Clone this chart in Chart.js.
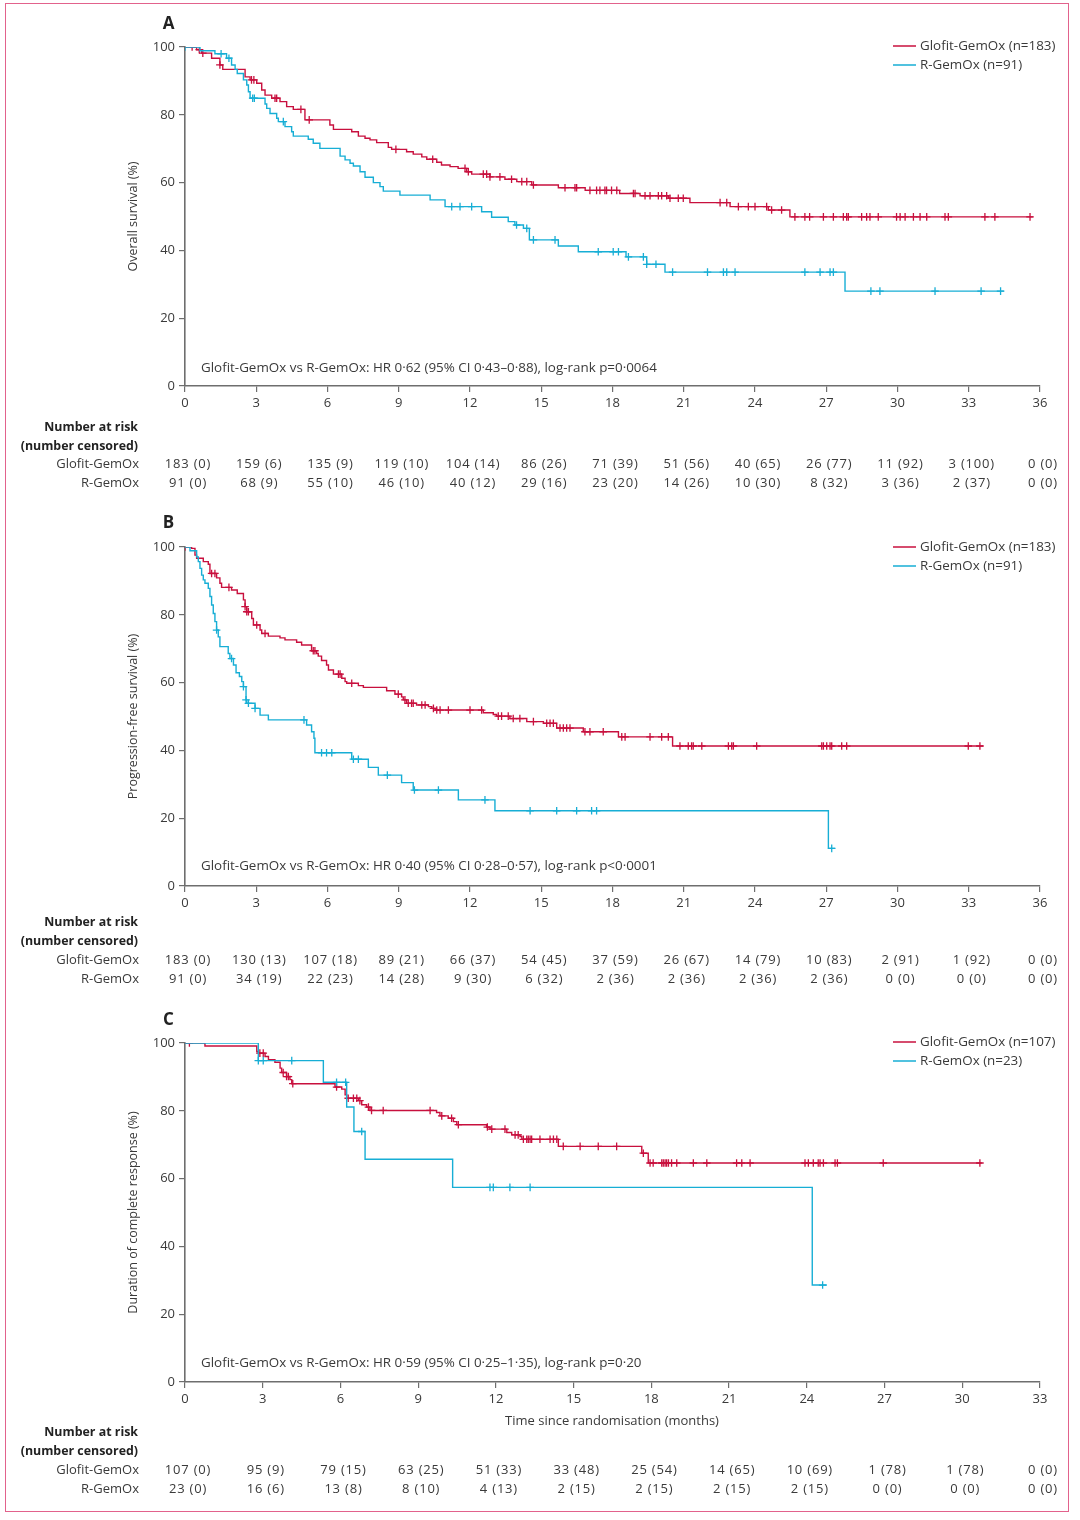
<!DOCTYPE html>
<html><head><meta charset="utf-8">
<script src="https://cdn.jsdelivr.net/npm/chart.js@4.4.1/dist/chart.umd.min.js"></script>
<style>
html,body{margin:0;padding:0;background:#fff;}
body{width:1080px;height:1520px;position:relative;overflow:hidden;}
#frame{position:absolute;left:5px;top:3px;width:1064px;height:1509px;border:1.5px solid #e2628c;box-sizing:border-box;}
.panel{position:absolute;left:0;width:1080px;}
canvas{display:block;}
</style></head>
<body>
<div id="frame"></div>
<div class="panel" style="top:0px;height:500px"><canvas id="cA" width="1080" height="500"></canvas></div>
<div class="panel" style="top:500px;height:500px"><canvas id="cB" width="1080" height="500"></canvas></div>
<div class="panel" style="top:1000px;height:520px"><canvas id="cC" width="1080" height="520"></canvas></div>
<script>
// ---------- DATA ----------
// Panel A: overall survival
const A_glofit_t = [0,0.49,0.70,1.12,1.47,1.59,2.53,2.74,3.02,3.23,3.37,3.65,4.0,4.28,4.56,5.05,6.1,6.25,7.02,7.3,7.58,7.79,8.07,8.56,8.7,9.33,9.61,9.97,10.18,10.6,10.8,11.16,11.5,11.86,12.07,12.84,13.47,13.97,14.6,15.72,16.85,18.3,19.16,20.35,21.26,22.95,24.56,25.47,35.7];
const A_glofit_s = [100,99.2,98.2,96.7,94.7,93.4,91.2,90.3,89.3,87.3,85.8,84.9,83.9,82.4,81.6,78.5,77.0,75.7,75.0,73.7,73.1,72.6,71.8,70.4,69.8,69.1,68.4,67.6,66.9,66.0,65.2,64.7,64.2,63.2,62.5,61.7,61.0,60.3,59.3,58.5,57.7,56.8,56.1,55.4,54.1,52.9,51.9,49.9,49.9];
const A_glofit_cens = [0.3,0.6,0.75,1.47,2.8,2.9,3.79,3.86,4.88,5.23,8.88,10.43,11.79,11.93,12.56,12.7,12.84,13.26,13.75,14.18,14.39,14.67,16.0,16.42,16.49,17.05,17.33,17.47,17.68,17.75,17.96,18.18,18.88,18.95,19.37,19.58,19.93,20.07,20.28,20.42,20.77,20.98,22.53,22.81,23.3,23.72,24.0,24.49,24.7,25.12,25.68,26.1,26.3,26.88,27.3,27.72,27.86,27.93,28.49,28.7,28.84,29.19,29.96,30.11,30.32,30.67,30.95,31.23,32.0,32.14,33.68,34.1,35.58];
const A_rgemox_t = [0,0.63,1.26,1.75,1.96,2.11,2.2,2.46,2.6,2.67,2.74,3.37,3.44,3.58,3.86,3.93,4.21,4.49,4.56,5.19,5.40,5.68,6.53,6.74,6.95,7.09,7.37,7.58,7.93,8.21,8.35,9.05,10.32,10.95,12.49,12.91,13.61,13.89,14.25,14.5,15.72,16.56,18.57,19.44,20.21,27.79,34.48];
const A_rgemox_s = [100,98.9,98.0,96.7,94.7,93.4,92.2,90.3,88.8,86.8,84.9,83.2,81.9,80.4,79.0,78.0,76.5,75.0,73.7,72.8,71.6,70.1,67.8,66.7,65.7,64.9,63.2,61.6,60.0,58.8,57.5,56.3,54.9,52.9,51.4,49.8,48.5,47.5,46.5,43.1,41.3,39.6,38.1,35.9,33.6,28.0,28.0];
const A_rgemox_cens = [0,1.52,1.85,2.85,2.92,4.14,11.23,11.58,12.07,13.96,14.39,14.67,15.58,17.4,18.03,18.25,18.67,19.3,19.44,19.83,20.53,22.0,22.67,22.81,23.16,26.1,26.74,27.16,27.3,28.88,29.26,31.58,33.52,34.34];
const A_risk_glofit = ['183 (0)','159 (6)','135 (9)','119 (10)','104 (14)','86 (26)','71 (39)','51 (56)','40 (65)','26 (77)','11 (92)','3 (100)','0 (0)'];
const A_risk_rgemox = ['91 (0)','68 (9)','55 (10)','46 (10)','40 (12)','29 (16)','23 (20)','14 (26)','10 (30)','8 (32)','3 (36)','2 (37)','0 (0)'];

// Panel B: progression-free survival
const B_glofit_t = [0,0.28,0.42,0.49,0.77,0.98,1.05,1.33,1.47,1.54,1.96,2.2,2.46,2.53,2.6,2.81,2.88,3.16,3.23,3.51,4.0,4.21,4.70,4.91,5.33,5.54,5.61,5.75,5.96,6.04,6.25,6.6,6.74,6.81,7.3,7.51,8.49,8.84,9.12,9.19,9.33,9.75,10.25,10.39,10.53,12.56,12.98,13.12,13.68,14.39,15.09,15.65,16.77,18.25,20.53,33.61];
const B_glofit_s = [100,99.6,97.6,96.7,95.7,94.9,92.2,90.9,89.3,88.1,87.3,86.3,84.4,82.4,80.9,78.9,77.0,75.5,74.5,73.7,73.2,72.6,71.9,71.1,69.4,68.6,67.8,66.5,65.2,63.7,62.5,61.3,60.3,59.8,59.1,58.6,57.6,56.6,55.8,54.9,53.9,53.4,52.9,52.4,51.9,51.1,50.6,50.1,49.4,48.5,48.0,46.6,45.5,44.0,41.3,41.3];
const B_glofit_cens = [0,1.12,1.26,1.85,2.53,2.6,2.67,3.02,3.37,5.4,5.47,6.46,6.53,7.02,8.98,9.26,9.4,9.54,9.61,9.97,10.11,10.46,10.6,10.74,11.09,12.0,12.49,13.19,13.33,13.61,13.82,14.1,14.67,15.23,15.37,15.51,15.79,15.93,16.07,16.21,16.84,17.05,17.61,18.39,18.53,19.58,20.07,20.35,20.84,21.19,21.33,21.4,21.76,22.88,23.02,23.09,24.07,26.81,26.88,27.02,27.16,27.23,27.65,27.86,32.98,33.47];
const B_rgemox_t = [0,0.21,0.49,0.56,0.63,0.70,0.77,0.84,0.98,1.05,1.12,1.19,1.26,1.33,1.40,1.47,1.82,1.89,2.04,2.15,2.29,2.39,2.46,2.57,2.6,2.95,3.16,3.51,5.12,5.33,5.43,5.47,7.02,7.72,8.14,9.12,9.61,11.51,13.05,27.09,27.37];
const B_rgemox_s = [100,98.9,97.1,95.7,93.7,91.7,90.3,89.3,87.8,85.4,82.9,80.4,78.0,75.5,73.5,70.6,68.6,67.1,65.2,62.9,61.8,60.3,58.8,54.9,53.9,52.4,50.4,49.0,47.5,45.5,43.6,39.3,37.4,35.0,32.7,30.5,28.3,25.4,22.2,11.1,11.1];
const B_rgemox_cens = [1.33,1.96,2.46,2.57,2.67,2.95,5.01,5.75,5.96,6.18,7.09,7.3,8.52,9.66,10.67,12.63,14.53,15.65,16.49,17.12,17.33,27.23];
const B_risk_glofit = ['183 (0)','130 (13)','107 (18)','89 (21)','66 (37)','54 (45)','37 (59)','26 (67)','14 (79)','10 (83)','2 (91)','1 (92)','0 (0)'];
const B_risk_rgemox = ['91 (0)','34 (19)','22 (23)','14 (28)','9 (30)','6 (32)','2 (36)','2 (36)','2 (36)','2 (36)','0 (0)','0 (0)','0 (0)'];

// Panel C: duration of complete response
const C_glofit_t = [0,0.77,2.77,2.83,3.09,3.22,3.47,3.67,3.73,3.92,4.05,4.12,5.79,6.05,6.18,6.24,6.69,6.82,7.01,7.14,9.71,9.84,10.16,10.36,10.49,11.64,11.77,12.42,12.61,12.93,13.0,14.41,17.63,17.88,30.75];
const C_glofit_s = [100,99.1,97.5,97.0,96.0,95.1,94.3,92.6,91.3,90.1,89.2,88.0,87.0,86.4,84.7,83.7,83.0,81.8,81.1,80.1,79.5,78.5,77.8,76.8,75.9,75.2,74.6,73.6,72.9,72.4,71.6,69.5,67.5,64.6,64.6];
const C_glofit_cens = [0.17,2.89,3.02,3.79,3.92,3.99,4.16,5.85,6.3,6.5,6.63,6.75,7.08,7.2,7.65,9.46,9.91,10.29,10.55,11.67,11.84,12.35,12.74,12.86,13.06,13.19,13.25,13.32,13.38,13.7,14.09,14.22,14.35,14.6,15.25,15.95,16.66,17.69,17.95,18.07,18.4,18.46,18.53,18.59,18.66,18.78,18.98,19.62,20.14,21.29,21.49,21.81,23.93,24.06,24.25,24.44,24.51,24.64,25.09,25.18,26.95,30.68];
const C_rgemox_t = [0,2.83,5.34,6.24,6.52,6.95,10.33,24.21,24.77];
const C_rgemox_s = [100,94.8,88.4,81.1,73.9,65.7,57.4,28.6,28.6];
const C_rgemox_cens = [2.83,3.02,4.12,5.85,6.2,6.82,11.77,11.9,12.54,13.32,24.61];
const C_risk_glofit = ['107 (0)','95 (9)','79 (15)','63 (25)','51 (33)','33 (48)','25 (54)','14 (65)','10 (69)','1 (78)','1 (78)','0 (0)'];
const C_risk_rgemox = ['23 (0)','16 (6)','13 (8)','8 (10)','4 (13)','2 (15)','2 (15)','2 (15)','2 (15)','0 (0)','0 (0)','0 (0)'];

const seriesNames = ['Glofit-GemOx','R-GemOx'];
const legendA = ['Glofit-GemOx (n=183)','R-GemOx (n=91)'];
const legendB = ['Glofit-GemOx (n=183)','R-GemOx (n=91)'];
const legendC = ['Glofit-GemOx (n=107)','R-GemOx (n=23)'];

// ---------- RENDER ----------
const FONT = "'Open Sans','Liberation Sans',Arial,sans-serif";
Chart.defaults.font.family = FONT;
Chart.defaults.font.size = 13;
Chart.defaults.color = '#444';
const RED = '#c8103e', CYAN = '#17aed5', AXIS = '#6e6e6e', TXT = '#3a3a3a';

function stepPoints(t, s){ return t.map((v,i)=>({x:v, y:s[i]})); }
function censorPoints(c, t, s){
  return c.map(tc=>{ let y=s[0]; for(let i=0;i<t.length;i++){ if(t[i]<=tc+1e-9) y=s[i]; else break; } return {x:tc, y:y}; });
}

function makePanel(id, cfg){
  const txtPlugin = {
    id:'txt_'+id,
    afterDraw(chart){
      const c = chart.ctx, ca = chart.chartArea, xs = chart.scales.x;
      c.save();
      c.fillStyle = '#222'; c.font = 'bold 17px ' + FONT; c.textAlign='center'; c.textBaseline='middle';
      c.fillText(cfg.letter, 168.5, cfg.letterY);
      c.save(); c.translate(133, (ca.top+ca.bottom)/2); c.rotate(-Math.PI/2);
      c.font = '12.5px ' + FONT; c.fillStyle = TXT; c.textAlign='center'; c.textBaseline='middle';
      c.fillText(cfg.yTitle, 0, 0); c.restore();
      const cols=[RED,CYAN];
      cfg.legend.forEach((lab,i)=>{
        const y = cfg.legendY + i*19;
        c.strokeStyle = cols[i]; c.lineWidth = 1.5;
        c.beginPath(); c.moveTo(893,y); c.lineTo(916,y); c.stroke();
        c.fillStyle = TXT; c.font = '13.4px ' + FONT; c.textAlign='left'; c.textBaseline='middle';
        c.fillText(lab, 920, y);
      });
      c.fillStyle = TXT; c.font = '13.4px ' + FONT; c.textAlign='left'; c.textBaseline='middle';
      c.fillText(cfg.annot, 201, cfg.annotY);
      if (cfg.xTitle){ c.font = '13px ' + FONT; c.textAlign='center'; c.fillText(cfg.xTitle, 612, cfg.xTitleY); }
      c.fillStyle = '#222'; c.font = 'bold 12.4px ' + FONT; c.textAlign='right';
      c.fillText('Number at risk', 138, cfg.riskY[0]);
      c.fillText('(number censored)', 138, cfg.riskY[1]);
      c.fillStyle = TXT; c.font = '13px ' + FONT;
      c.fillText(seriesNames[0], 139, cfg.riskY[2]);
      c.fillText(seriesNames[1], 139, cfg.riskY[3]);
      c.textAlign = 'center';
      c.letterSpacing = '0.8px';
      [cfg.riskG, cfg.riskR].forEach((row,ri)=>{
        row.forEach((v,i)=>{
          const px = xs.getPixelForValue(i*3) + 3;
          c.fillText(v, px, cfg.riskY[2+ri]);
        });
      });
      c.letterSpacing = '0px';
      c.restore();
    }
  };
  new Chart(document.getElementById(id), {
    type:'line',
    data:{ datasets:[
      {label:seriesNames[1], data:stepPoints(cfg.rT,cfg.rS), borderColor:CYAN, borderWidth:1.4, stepped:'before', pointRadius:0, fill:false},
      {label:seriesNames[0], data:stepPoints(cfg.gT,cfg.gS), borderColor:RED, borderWidth:1.4, stepped:'before', pointRadius:0, fill:false},
      {label:'R cens', data:censorPoints(cfg.rC,cfg.rT,cfg.rS), showLine:false, pointStyle:'cross', pointRadius:3.8, pointHoverRadius:3.8, borderColor:CYAN, borderWidth:1.3},
      {label:'G cens', data:censorPoints(cfg.gC,cfg.gT,cfg.gS), showLine:false, pointStyle:'cross', pointRadius:3.8, pointHoverRadius:3.8, borderColor:RED, borderWidth:1.3}
    ]},
    options:{
      responsive:false, animation:false, events:[],
      layout:{padding:{left:0, right:40, top:cfg.padTop, bottom:cfg.padBottom}},
      plugins:{legend:{display:false}, tooltip:{enabled:false}},
      scales:{
        x:{type:'linear', min:0, max:cfg.xMax,
           ticks:{stepSize:3, color:TXT, font:{size:13}, padding:3, maxRotation:0, autoSkip:false},
           grid:{display:true, drawOnChartArea:false, drawTicks:true, tickLength:6, color:AXIS, lineWidth:1.2},
           border:{display:true, color:AXIS, width:1.6},
           afterFit(s){ s.height = 30; s.paddingLeft=0; s.paddingRight=0; }},
        y:{type:'linear', min:0, max:100,
           ticks:{stepSize:20, color:TXT, font:{size:13}, padding:4},
           grid:{display:true, drawOnChartArea:false, drawTicks:true, tickLength:6, color:AXIS, lineWidth:1.2},
           border:{display:true, color:AXIS, width:1.6},
           afterFit(s){ s.width = 185; s.paddingTop=0; s.paddingBottom=0; }}
      }
    },
    plugins:[txtPlugin]
  });
}

makePanel('cA', {letter:'A', letterY:24, yTitle:'Overall survival (%)', legend:legendA, legendY:46,
  annot:'Glofit-GemOx vs R-GemOx: HR 0·62 (95% CI 0·43–0·88), log-rank p=0·0064', annotY:368,
  riskY:[427,446,464,483], riskG:A_risk_glofit, riskR:A_risk_rgemox, xMax:36, padTop:47, padBottom:84,
  gT:A_glofit_t, gS:A_glofit_s, gC:A_glofit_cens, rT:A_rgemox_t, rS:A_rgemox_s, rC:A_rgemox_cens});
makePanel('cB', {letter:'B', letterY:23, yTitle:'Progression-free survival (%)', legend:legendB, legendY:47,
  annot:'Glofit-GemOx vs R-GemOx: HR 0·40 (95% CI 0·28–0·57), log-rank p<0·0001', annotY:366,
  riskY:[422,441,460,479], riskG:B_risk_glofit, riskR:B_risk_rgemox, xMax:36, padTop:47, padBottom:84,
  gT:B_glofit_t, gS:B_glofit_s, gC:B_glofit_cens, rT:B_rgemox_t, rS:B_rgemox_s, rC:B_rgemox_cens});
makePanel('cC', {letter:'C', letterY:20, yTitle:'Duration of complete response (%)', legend:legendC, legendY:42,
  annot:'Glofit-GemOx vs R-GemOx: HR 0·59 (95% CI 0·25–1·35), log-rank p=0·20', annotY:363,
  xTitle:'Time since randomisation (months)', xTitleY:421,
  riskY:[432,451,470,489], riskG:C_risk_glofit, riskR:C_risk_rgemox, xMax:33, padTop:43, padBottom:108,
  gT:C_glofit_t, gS:C_glofit_s, gC:C_glofit_cens, rT:C_rgemox_t, rS:C_rgemox_s, rC:C_rgemox_cens});
</script>
</body></html>
